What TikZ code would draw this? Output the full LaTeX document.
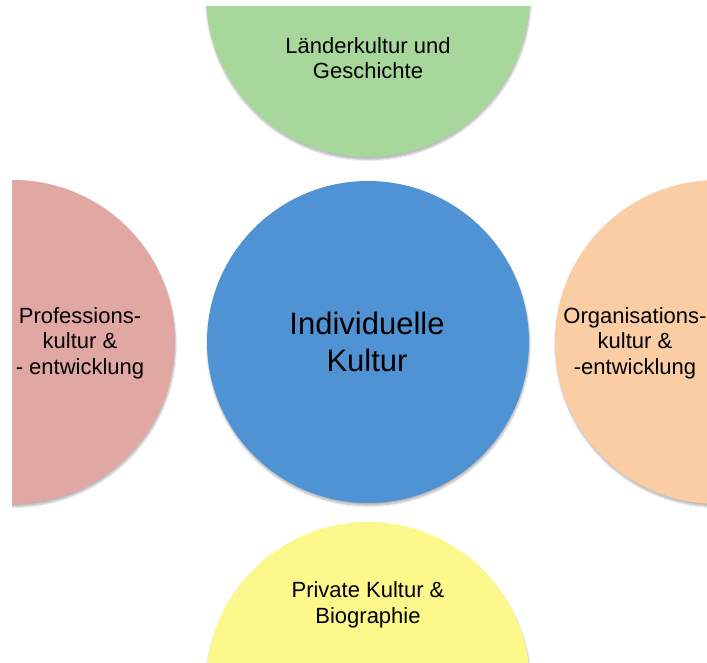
\documentclass[tikz,border=0pt]{standalone}
\usepackage{fontspec}
\setmainfont{Liberation Sans}
\usetikzlibrary{shadows.blur}
\definecolor{blau}{RGB}{80,147,212}
\definecolor{gruen}{RGB}{168,215,156}
\definecolor{rosa}{RGB}{225,167,163}
\definecolor{orange}{RGB}{250,205,165}
\definecolor{gelb}{RGB}{253,248,140}
\tikzset{
	kreis/.style={circle,minimum size=324pt,inner sep=0pt,
		blur shadow={shadow xshift=0.5pt,shadow yshift=-2.5pt,shadow blur steps=6,shadow opacity=30}},
	beschr/.style={align=center,font=\fontsize{22}{25.5}\selectfont}
}
\begin{document}
\begin{tikzpicture}[x=1pt,y=-1pt]
				\useasboundingbox (0,0) rectangle (707,663);
				\clip (12,7) rectangle (707,663);
				
				\node[kreis,fill=gruen] (laender) at (368,-5) {};
				\node[kreis,fill=rosa] (profession) at (13,342) {};
				\node[kreis,fill=orange] (organisation) at (717,342) {};
				\node[kreis,fill=gelb] (privat) at (368,684) {};
				\node[kreis,fill=blau,minimum size=322pt] (individuell) at (368,342) {};
				
				\node[beschr] (laendertext) at (368,58) {Länderkultur und\\Geschichte};
				\node[beschr] (professiontext) at (80,343) {Professions-\\kultur \&\\- entwicklung};
				\node[beschr] (organisationtext) at (635,343) {Organisations-\\kultur \&\\-entwicklung};
				\node[beschr] (privattext) at (368,605) {Private Kultur \&\\Biographie};
				\node[align=center,font=\fontsize{31}{37}\selectfont] (individuelltext) at (367,342) {Individuelle\\Kultur};
			\end{tikzpicture}
\end{document}
